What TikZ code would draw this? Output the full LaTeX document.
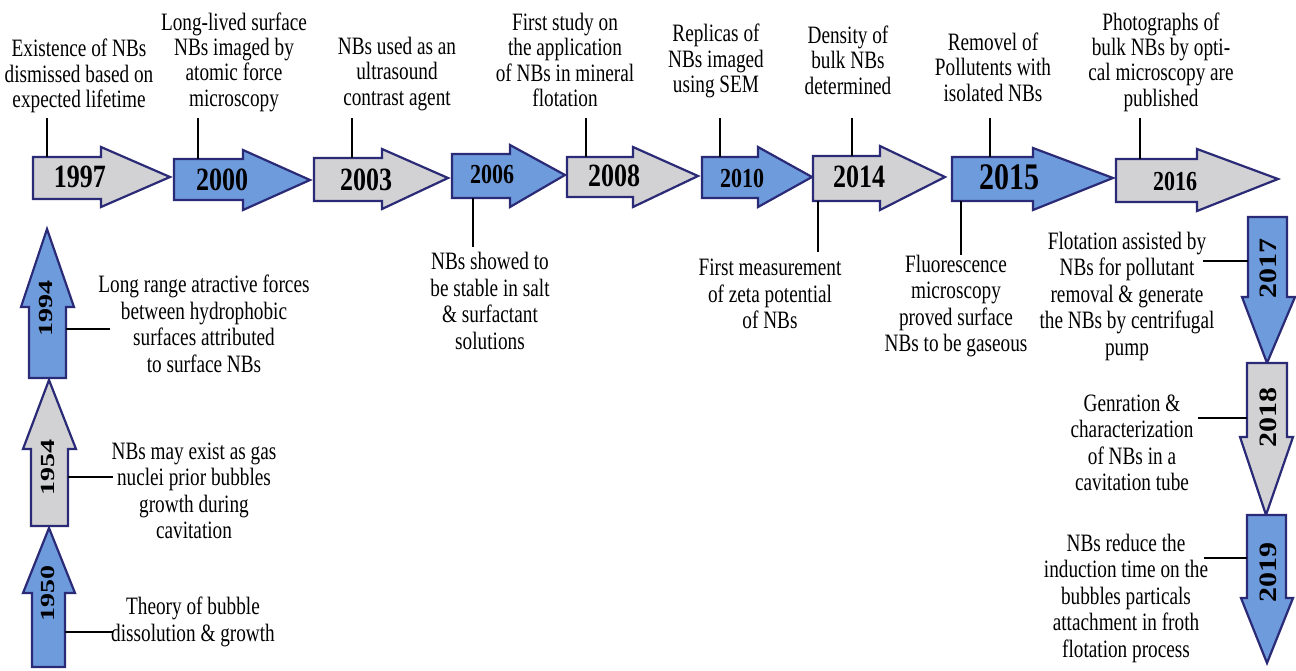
\documentclass[tikz,border=0pt]{standalone}
\usepackage{fontspec}
\setmainfont{Liberation Serif}[FakeStretch=0.77]
\newfontfamily\yrfont{Liberation Serif}[FakeStretch=0.8]
\newfontfamily\vlfont{Liberation Serif}[FakeStretch=1.4]
\newfontfamily\vrfont{Liberation Serif}[FakeStretch=1.2]
\definecolor{navy}{RGB}{42,42,118}
\definecolor{ablue}{RGB}{110,155,220}
\definecolor{agray}{RGB}{210,210,212}
\tikzset{
  garrow/.style={draw=navy, fill=agray, line width=1.1pt, line join=miter},
  barrow/.style={draw=navy, fill=ablue, line width=1.1pt, line join=miter},
  conn/.style={draw=black, line width=1pt},
  desc/.style={align=center, inner sep=0pt, font=\fontsize{12.5}{13.25}\selectfont},
  topdesc/.style={align=center, inner sep=0pt, font=\fontsize{12.5}{12.7}\selectfont},
  yrbig/.style={inner sep=0pt, font=\yrfont\bfseries\fontsize{16.25}{18}\selectfont},
  yrsmall/.style={inner sep=0pt, font=\yrfont\bfseries\fontsize{13.75}{15}\selectfont},
  yrhuge/.style={inner sep=0pt, font=\yrfont\bfseries\fontsize{18.75}{20}\selectfont},
  yrleft/.style={inner sep=0pt, rotate=90, font=\vlfont\bfseries\fontsize{10}{11}\selectfont},
  yrright/.style={inner sep=0pt, rotate=90, font=\vrfont\bfseries\fontsize{12.5}{13}\selectfont}
}
\begin{document}
\begin{tikzpicture}[x=0.5pt, y=-0.5pt]
\useasboundingbox[fill=white] (0,0) rectangle (1296,670);

% ---------- top row arrows ----------
\draw[garrow] (33,157) -- (101,157) -- (101,147) -- (170,177) -- (101,207) -- (101,199) -- (33,199) -- cycle;
\draw[barrow] (174,159) -- (243,159) -- (243,150) -- (310,180) -- (243,210) -- (243,200) -- (174,200) -- cycle;
\draw[garrow] (314,158) -- (382,158) -- (382,149) -- (448,178) -- (382,209) -- (382,201) -- (314,201) -- cycle;
\draw[barrow] (452,154) -- (510,154) -- (510,145) -- (565,175) -- (510,207) -- (510,198) -- (452,198) -- cycle;
\draw[garrow] (567,157) -- (633,157) -- (633,147) -- (698,176) -- (633,207) -- (633,197) -- (567,197) -- cycle;
\draw[barrow] (702,157) -- (758,157) -- (758,147) -- (812,177) -- (758,207) -- (758,198) -- (702,198) -- cycle;
\draw[garrow] (813,156) -- (880,156) -- (880,146) -- (945,177) -- (880,210) -- (880,201) -- (813,201) -- cycle;
\draw[barrow] (952,157) -- (1033,157) -- (1033,148) -- (1113,178) -- (1033,210) -- (1033,201) -- (952,201) -- cycle;
\draw[garrow] (1116,159) -- (1197,159) -- (1197,149) -- (1278,179) -- (1197,211) -- (1197,202) -- (1116,202) -- cycle;

\node[yrbig]   (y1997) at (80,177)   {1997};
\node[yrbig]   (y2000) at (222,180)  {2000};
\node[yrbig]   (y2003) at (366,180)  {2003};
\node[yrsmall] (y2006) at (492,174)  {2006};
\node[yrbig]   (y2008) at (614,176)  {2008};
\node[yrsmall] (y2010) at (742,178)  {2010};
\node[yrbig]   (y2014) at (859,177)  {2014};
\node[yrhuge]  (y2015) at (1009,177) {2015};
\node[yrsmall] (y2016) at (1175,181) {2016};

% ---------- left column arrows ----------
\draw[barrow] (29,378) -- (29,307) -- (21,307) -- (47,229) -- (74,307) -- (66,307) -- (66,378) -- cycle;
\draw[garrow] (31,526) -- (31,449) -- (23,449) -- (49,380) -- (76,449) -- (68,449) -- (68,526) -- cycle;
\draw[barrow] (32,667) -- (32,593) -- (23,593) -- (49,528) -- (75,593) -- (65,593) -- (65,667) -- cycle;
\node[yrleft] (v1994) at (46,308) {1994};
\node[yrleft] (v1954) at (48,467) {1954};
\node[yrleft] (v1950) at (48,593) {1950};

% ---------- right column arrows ----------
\draw[barrow] (1248,217) -- (1287,217) -- (1287,297) -- (1295,297) -- (1267,363) -- (1242,297) -- (1248,297) -- cycle;
\draw[garrow] (1247,363) -- (1287,363) -- (1287,437) -- (1293,437) -- (1266,515) -- (1240,437) -- (1247,437) -- cycle;
\draw[barrow] (1247,515) -- (1286,515) -- (1286,598) -- (1293,598) -- (1267,663) -- (1241,598) -- (1247,598) -- cycle;
\node[yrright] (v2017) at (1268,268) {2017};
\node[yrright] (v2018) at (1268,417) {2018};
\node[yrright] (v2019) at (1268,572) {2019};

% ---------- top descriptions ----------
\node[topdesc] (t1997) at (79,76)   {Existence of NBs\\dismissed based on\\expected lifetime};
\node[topdesc] (t2000) at (234,62)  {Long-lived surface\\NBs imaged by\\atomic force\\microscopy};
\node[topdesc] (t2003) at (397,74)  {NBs used as an\\ultrasound\\contrast agent};
\node[topdesc] (t2008) at (565,60)  {First study on\\the application\\of NBs in mineral\\flotation};
\node[topdesc] (t2010) at (716,61)  {Replicas of\\NBs imaged\\using SEM};
\node[topdesc] (t2014) at (848,60)  {Density of\\bulk NBs\\determined};
\node[topdesc] (t2015) at (993,67)  {Removel of\\Pollutents with\\isolated NBs};
\node[topdesc] (t2016) at (1161,62) {Photographs of\\bulk NBs by opti-\\cal microscopy are\\published};

% ---------- bottom descriptions ----------
\node[desc] (b2006) at (490,301) {NBs showed to\\be stable in salt\\\& surfactant\\solutions};
\node[desc] (b2014) at (770,294) {First measurement\\of zeta potential\\of NBs};
\node[desc] (b2015) at (956,306) {Fluorescence\\microscopy\\proved surface\\NBs to be gaseous};

% ---------- left descriptions ----------
\node[desc] (l1994) at (204,324) {Long range atractive forces\\between hydrophobic\\surfaces attributed\\to surface NBs};
\node[desc] (l1954) at (194,491) {NBs may exist as gas\\nuclei prior bubbles\\growth during\\cavitation};
\node[desc] (l1950) at (193,622) {Theory of bubble\\dissolution \& growth};

% ---------- right descriptions ----------
\node[desc] (r2017) at (1127,296) {Flotation assisted by\\NBs for pollutant\\removal \& generate\\the NBs by centrifugal\\pump};
\node[desc] (r2018) at (1132,443) {Genration \&\\characterization\\of NBs in a\\cavitation tube};
\node[desc] (r2019) at (1126,598) {NBs reduce the\\induction time on the\\bubbles particals\\attachment in froth\\flotation process};

% ---------- connector end points ----------
\coordinate (a1997) at (47,157);   \coordinate (k1997) at (47,118);
\coordinate (a2000) at (198,159);  \coordinate (k2000) at (198,118);
\coordinate (a2003) at (352,158);  \coordinate (k2003) at (352,118);
\coordinate (a2008) at (586,157);  \coordinate (k2008) at (586,118);
\coordinate (a2010) at (720,157);  \coordinate (k2010) at (720,118);
\coordinate (a2014) at (852,156);  \coordinate (k2014) at (852,118);
\coordinate (a2015) at (990,157);  \coordinate (k2015) at (990,118);
\coordinate (a2016) at (1140,159); \coordinate (k2016) at (1140,118);
\coordinate (d2006) at (473,198);  \coordinate (m2006) at (473,247);
\coordinate (d2014) at (818,201);  \coordinate (m2014) at (818,252);
\coordinate (d2015) at (961,201);  \coordinate (m2015) at (961,255);
\coordinate (s1994) at (66,329);   \coordinate (e1994) at (110,329);
\coordinate (s1954) at (68,477);   \coordinate (e1954) at (113,477);
\coordinate (s1950) at (65,632);   \coordinate (e1950) at (113,632);
\coordinate (s2017) at (1248,261); \coordinate (e2017) at (1203,261);
\coordinate (s2018) at (1247,418); \coordinate (e2018) at (1198,418);
\coordinate (s2019) at (1247,558); \coordinate (e2019) at (1204,558);

\foreach \n in {1997,2000,2003,2008,2010,2014,2015,2016}
  \draw[conn] (a\n) -- (k\n);
\foreach \n in {2006,2014,2015}
  \draw[conn] (d\n) -- (m\n);
\foreach \n in {1994,1954,1950,2017,2018,2019}
  \draw[conn] (s\n) -- (e\n);
\end{tikzpicture}
\end{document}
